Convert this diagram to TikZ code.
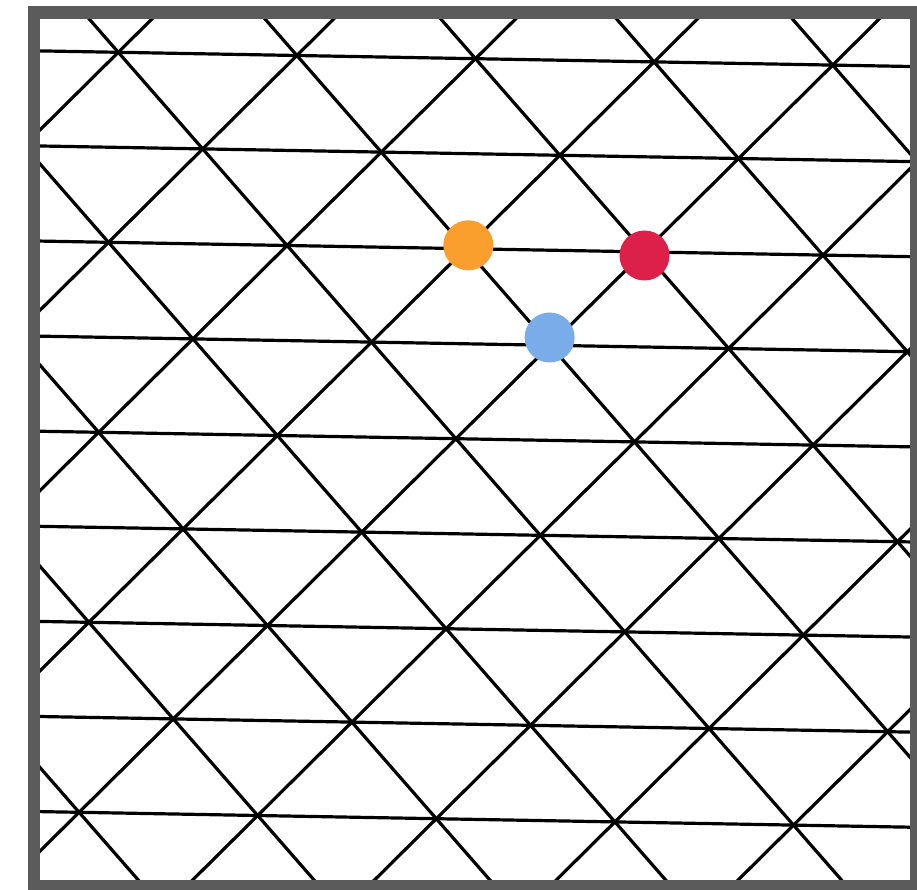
\documentclass[tikz,border=0pt]{standalone}
\definecolor{framegray}{HTML}{5B5B5B}
\definecolor{dotorange}{HTML}{FA9F2E}
\definecolor{dotred}{HTML}{DD2049}
\definecolor{dotblue}{HTML}{7AACE9}
\tikzset{
  latline/.style={line width=3.2pt, black},
  dotnode/.style={circle, inner sep=0pt, minimum size=50pt, draw=none},
  framebox/.style={line width=12.5pt, framegray}
}
\begin{document}
\begin{tikzpicture}[x=1pt,y=-1pt]
\useasboundingbox (0,0) rectangle (917,890);
\fill[white] (0,0) rectangle (917,890);
\begin{scope}
  \clip (34,12.5) rectangle (916,886);
  \begin{scope}[shift={(118.3,52.3)}]
    \begin{scope}[x={(178.6pt,-3.2pt)}, y={(84.4pt,-96.6pt)}]
      \foreach \j in {-3,...,12} {
        \draw[latline] (-12,\j) -- (12,\j);
      }
      \foreach \i in {-10,...,10} {
        \draw[latline] (\i,-3) -- (\i,12);
        \draw[latline] (\i+3,-3) -- (\i-12,12);
      }
    \end{scope}
  \end{scope}
\end{scope}
\node[dotnode, fill=dotorange] (orange) at (468.3,245.3) {};
\node[dotnode, fill=dotred] (red) at (644.5,255.5) {};
\node[dotnode, fill=dotblue] (blue) at (549.6,337.5) {};
\draw[framebox] (34,12.5) rectangle (916,886);
\end{tikzpicture}
\end{document}
